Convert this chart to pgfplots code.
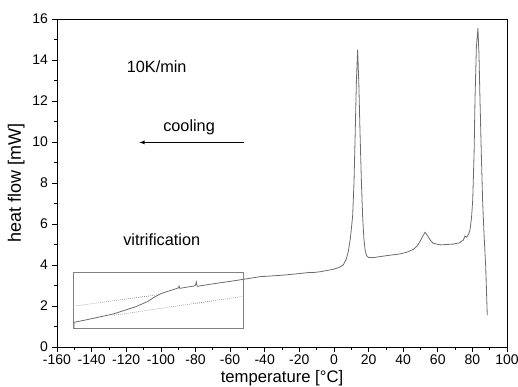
\documentclass[border=0pt]{standalone}
\usepackage{fontspec}
\setmainfont{Liberation Sans}
\usepackage{pgfplots}
\pgfplotsset{compat=1.18}
\begin{document}
\begin{tikzpicture}
\begin{axis}[
  scale only axis,
  width=337.5pt, height=246pt,
  xmin=-160, xmax=100, ymin=0, ymax=16,
  xtick={-160,-140,...,100}, ytick={0,2,...,16},
  minor x tick num=1, minor y tick num=1,
  xtick pos=left, ytick pos=left,
  tick align=outside,
  major tick length=3.75pt, minor tick length=2.25pt,
  /pgf/number format/assume math mode=true,
  ticklabel style={font=\fontsize{10.5pt}{12pt}\selectfont},
  xticklabel style={yshift=1.5pt},
  yticklabel style={xshift=0.5pt},
  xlabel={temperature [°C]}, ylabel={heat flow [mW]},
  xlabel style={font=\fontsize{12.5pt}{14pt}\selectfont, yshift=2.5pt},
  ylabel style={font=\fontsize{13.5pt}{15pt}\selectfont, yshift=-1pt},
  axis line style={black, line width=0.6pt},
  tick style={black, line width=0.5pt},
  clip=false,
]
\coordinate (ll) at (rel axis cs:0,0);
\coordinate (ur) at (rel axis cs:1,1);
\addplot[gray!85!black, line width=0.6pt] coordinates {
(-150.2,0.9) (-150.2,1.2) (-140,1.38) (-127.5,1.61) (-115,1.95) (-108,2.2)
(-104,2.42) (-100,2.6) (-96.6,2.70) (-92,2.82) (-90,2.88) (-89.5,2.97) (-89,2.86)
(-85,2.92) (-81,2.97) (-80,3.02) (-79.5,3.17) (-79,2.96) (-70,3.08) (-60,3.2)
(-52.4,3.3) (-42.7,3.43) (-30,3.5) (-20,3.58) (-14,3.64) (-12,3.63) (-8,3.67)
(-0.35,3.79) (3,3.88) (5.4,4.0) (7.2,4.3) (8.4,4.7) (9.5,5.3) (10.8,6.36)
(11.6,8.0) (12.2,10.1) (13.0,13.0) (13.7,14.5) (14.4,12.8) (15.1,10.4)
(15.9,8.0) (16.6,6.36) (17.3,5.3) (18.0,4.73) (18.9,4.45) (19.9,4.37)
(22.7,4.36) (30,4.45) (38.2,4.54) (42,4.62) (45.9,4.76) (48,4.92) (49.7,5.14)
(51.3,5.40) (52.6,5.59) (53.5,5.5) (54.5,5.38) (55.8,5.2) (57.4,5.06)
(61.3,4.98) (69.0,5.02) (72.5,5.08) (74.8,5.22) (75.7,5.41) (76.7,5.35)
(77.8,5.5) (78.6,5.7) (79.5,6.3) (80.2,7.17) (81.0,9.5) (81.5,12.05)
(82.3,14.6) (83.2,15.55) (83.8,14.3) (84.4,12.05) (85.2,9.3) (85.9,7.17)
(86.7,5.55) (87.7,3.92) (88.6,1.56)
};
\addplot[gray, densely dotted, line width=0.5pt] coordinates {(-148.6,2.01) (-101,2.56)};
\addplot[gray, densely dotted, line width=0.5pt] coordinates {(-127,1.55) (-52.5,2.47)};
\draw[gray, line width=0.5pt] (axis cs:-150.5,0.9) rectangle (axis cs:-52.5,3.65);
\draw[-latex, black, line width=0.4pt] (axis cs:-51.9,9.98) -- (axis cs:-112.4,9.98);
\node[font=\fontsize{12.2pt}{14pt}\selectfont] at (axis cs:-102.4,13.67) {10K/min};
\node[font=\fontsize{12.2pt}{14pt}\selectfont] at (axis cs:-83.7,10.7) {cooling};
\node[font=\fontsize{12.2pt}{14pt}\selectfont] at (axis cs:-99.5,5.22) {vitrification};
\end{axis}
\pgfresetboundingbox
\path ([shift={(-42.75pt,-30pt)}]ll) rectangle ([shift={(8.25pt,14.25pt)}]ur);
\end{tikzpicture}
\end{document}
